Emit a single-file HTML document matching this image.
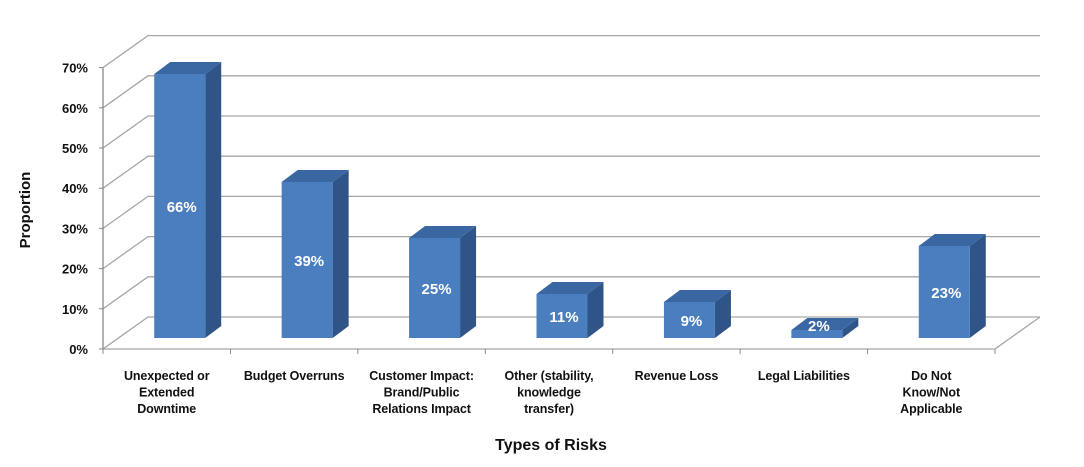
<!DOCTYPE html>
<html><head><meta charset="utf-8"><style>
html,body{margin:0;padding:0;background:#fff;}
svg{display:block;font-family:"Liberation Sans",sans-serif;}
</style></head><body>
<svg id="chart" width="1084" height="467" viewBox="0 0 1084 467">
<g id="grid"></g>
<g id="yaxis"></g>
<g id="bars"></g>
<g id="xaxis"></g>
<text x="30" y="210" transform="rotate(-90 30 210)" text-anchor="middle" font-size="15" font-weight="bold" fill="#111">Proportion</text>
<text x="551" y="450" text-anchor="middle" font-size="16" font-weight="bold" fill="#111">Types of Risks</text>
</svg>
<script>
const categories = [["Unexpected or","Extended","Downtime"],["Budget Overruns"],["Customer Impact:","Brand/Public","Relations Impact"],["Other (stability,","knowledge","transfer)"],["Revenue Loss"],["Legal Liabilities"],["Do Not","Know/Not","Applicable"]];
const values = [66,39,25,11,9,2,23];
const yTicks = [0,10,20,30,40,50,60,70];

const NS="http://www.w3.org/2000/svg";
const X0=103, X1=995, Y0=349, PPU=4.02, DX=45, DY=-32;
const catW=(X1-X0)/categories.length;
const y=v=>Y0-v*PPU;
function mk(tag,attrs,parent){const e=document.createElementNS(NS,tag);for(const k in attrs)e.setAttribute(k,attrs[k]);parent.appendChild(e);return e;}
const grid=document.getElementById('grid'),yaxis=document.getElementById('yaxis'),bars=document.getElementById('bars'),xaxis=document.getElementById('xaxis');
yTicks.forEach(t=>{
  const p=mk('polyline',{points:`${X0},${y(t)} ${X0+DX},${y(t)+DY} ${X1+DX},${y(t)+DY}`,fill:'none',stroke:'#a6a6a6','stroke-width':1.3},grid);
  
  
  const tx=mk('text',{x:88,y:y(t)+5,'text-anchor':'end','font-size':13,'font-weight':'bold',fill:'#111'},yaxis);
  tx.textContent=t+'%';
  
  
  mk('line',{x1:X0-4,y1:y(t),x2:X0,y2:y(t),stroke:'#888'},yaxis);
});
mk('line',{x1:X0,y1:y(0),x2:X0,y2:y(70),stroke:'#888','stroke-width':1.3},yaxis);
const fl=mk('polyline',{points:`${X0},${Y0} ${X1},${Y0} ${X1+DX},${Y0+DY}`,fill:'none',stroke:'#a6a6a6','stroke-width':1.3},grid);


for(let i=0;i<=categories.length;i++){mk('line',{x1:X0+i*catW,y1:Y0,x2:X0+i*catW,y2:Y0+5,stroke:'#888'},xaxis);}
const BW=51, BD=16, BH=12, BOFF=13, BB=338;
values.forEach((v,i)=>{
  const cx=X0+catW*(i+0.5)+BOFF, l=cx-BW/2, r=cx+BW/2, top=BB-v*4;
  const g=mk('g',{},bars);
  
  
  mk('polygon',{points:`${r},${top} ${r+BD},${top-BH} ${r+BD},${BB-BH} ${r},${BB}`,fill:'#2f5487'},g);
  mk('polygon',{points:`${l},${top} ${l+BD},${top-BH} ${r+BD},${top-BH} ${r},${top}`,fill:'#3a67a2'},g);
  mk('rect',{x:l,y:top,width:BW,height:BB-top,fill:'#4a7ebf'},g);
  const lt=mk('text',{x:cx+2,y:v<5?top+1:(top+BB)/2+6,'text-anchor':'middle','font-size':15,'font-weight':'bold',fill:'#fff'},g);
  lt.textContent=v+'%';
  
  
});
categories.forEach((lines,i)=>{
  const cx=X0+catW*(i+0.5);
  const t=mk('text',{'text-anchor':'middle','font-size':12.5,'font-weight':'bold',fill:'#111','letter-spacing':'-0.1'},xaxis);
  
  
  lines.forEach((s,j)=>{const ts=mk('tspan',{x:cx,y:380+j*16.5},t);ts.textContent=s;});
});
</script>
</body></html>
